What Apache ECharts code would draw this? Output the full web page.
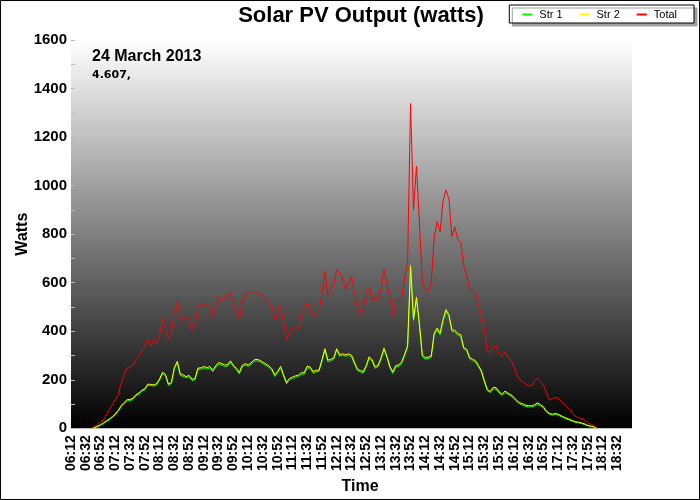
<!DOCTYPE html>
<html>
<head>
<meta charset="utf-8">
<script src="https://cdn.jsdelivr.net/npm/echarts@6/dist/echarts.min.js"></script>
<style>html,body{margin:0;padding:0;background:#fff}#c{width:700px;height:500px}</style>
</head>
<body>
<div id="c"></div>
<script>
const times = [
'06:12','06:16','06:20','06:24','06:28','06:32','06:36','06:40','06:44','06:48','06:52','06:56','07:00','07:04','07:08',
'07:12','07:16','07:20','07:24','07:28','07:32','07:36','07:40','07:44','07:48','07:52','07:56','08:00','08:04','08:08',
'08:12','08:16','08:20','08:24','08:28','08:32','08:36','08:40','08:44','08:48','08:52','08:56','09:00','09:04','09:08',
'09:12','09:16','09:20','09:24','09:28','09:32','09:36','09:40','09:44','09:48','09:52','09:56','10:00','10:04','10:08',
'10:12','10:16','10:20','10:24','10:28','10:32','10:36','10:40','10:44','10:48','10:52','10:56','11:00','11:04','11:08',
'11:12','11:16','11:20','11:24','11:28','11:32','11:36','11:40','11:44','11:48','11:52','11:56','12:00','12:04','12:08',
'12:12','12:16','12:20','12:24','12:28','12:32','12:36','12:40','12:44','12:48','12:52','12:56','13:00','13:04','13:08',
'13:12','13:16','13:20','13:24','13:28','13:32','13:36','13:40','13:44','13:48','13:52','13:56','14:00','14:04','14:08',
'14:12','14:16','14:20','14:24','14:28','14:32','14:36','14:40','14:44','14:48','14:52','14:56','15:00','15:04','15:08',
'15:12','15:16','15:20','15:24','15:28','15:32','15:36','15:40','15:44','15:48','15:52','15:56','16:00','16:04','16:08',
'16:12','16:16','16:20','16:24','16:28','16:32','16:36','16:40','16:44','16:48','16:52','16:56','17:00','17:04','17:08',
'17:12','17:16','17:20','17:24','17:28','17:32','17:36','17:40','17:44','17:48','17:52','17:56','18:00','18:04','18:08',
'18:12','18:16','18:20','18:24','18:28','18:32','18:36','18:40','18:44','18:48','18:52'
];

const str1 = [
null,null,null,null,null,null,null,0,2,7,
12,19,27,35,44,55,70,89,101,113,
114,119,134,140,152,158,177,176,174,179,
198,225,216,177,184,244,270,218,214,208,
213,197,200,242,243,249,243,249,233,251,
265,261,255,256,272,254,241,224,253,260,
255,263,276,278,274,266,259,251,240,214,
229,249,214,183,200,205,210,213,223,223,
250,247,228,233,234,276,320,274,278,285,
322,297,301,297,301,295,266,238,232,228,
253,289,276,247,254,284,324,291,249,226,
253,255,268,299,334,662,444,532,423,295,
285,287,292,385,406,385,441,482,461,399,
397,383,379,327,320,286,279,272,253,231,
191,155,147,163,161,145,136,147,140,133,
123,109,100,96,90,88,88,92,100,92,
84,67,58,54,57,54,48,42,37,33,
28,24,22,19,15,10,7,5,1
];

const str2 = [
null,null,null,null,null,null,null,0,3,9,
15,23,31,39,48,59,74,93,106,118,
119,124,139,145,157,163,182,181,179,184,
203,231,222,182,189,250,276,224,220,213,
218,202,205,248,249,255,249,255,239,257,
271,267,261,262,278,260,247,230,259,266,
261,269,282,284,280,272,265,257,246,220,
235,255,220,189,206,211,216,219,229,229,
256,253,234,239,240,283,328,281,284,291,
328,303,307,303,307,301,272,244,238,234,
259,295,282,253,260,290,330,297,255,232,
259,261,274,305,340,670,450,540,430,301,
291,293,298,392,413,392,448,489,468,406,
404,390,386,333,326,292,285,278,259,237,
197,160,152,169,167,150,141,153,145,138,
128,114,105,101,95,93,93,97,105,97,
89,71,62,58,61,58,52,46,41,36,
31,27,25,22,18,12,9,7,2
];

const total = [
null,null,null,null,null,null,null,0,8,17,
26,35,56,77,97,118,139,185,223,248,
250,259,282,295,322,335,367,338,365,350,
385,452,410,369,388,485,524,456,443,460,
448,401,429,499,510,513,513,491,455,503,
542,521,534,549,555,519,483,451,520,551,
557,563,565,559,553,547,526,514,506,448,
472,503,438,368,396,414,405,411,474,496,
516,496,463,472,482,558,647,550,570,593,
650,642,615,573,600,627,560,497,467,495,
564,579,527,535,535,574,656,596,535,462,
525,522,536,622,684,1338,900,1080,850,598,
574,565,602,787,851,810,937,982,944,790,
829,778,767,671,632,575,572,558,508,466,
405,317,313,333,340,305,296,315,292,282,
253,220,200,191,183,175,175,194,207,194,
179,146,116,122,127,124,111,98,89,77,
58,48,43,40,33,23,16,11,3
];

const yTicks = [0, 200, 400, 600, 800, 1000, 1200, 1400, 1600];
const seriesNames = ['Str 1', 'Str 2', 'Total'];
const seriesColors = ['#00ff00', '#ffff00', '#ff0000'];
const titleText = 'Solar PV Output (watts)';
const dateText = '24 March 2013';
const energyText = '4.607,';

const FF = '"Liberation Sans", Arial, sans-serif';
const chart = echarts.init(document.getElementById('c'), null, {renderer: 'canvas'});
const seriesData = [str1, str2, total];

chart.setOption({
  animation: false,
  backgroundColor: '#ffffff',
  title: {
    text: titleText, left: 356, top: 0, textAlign: 'center',
    textStyle: {fontFamily: FF, fontSize: 22, fontWeight: 'bold', color: '#000'}
  },
  legend: {
    data: seriesNames, right: 6, top: 5,
    padding: [4, 17, 3, 13], itemGap: 17, itemWidth: 10, itemHeight: 2, icon: 'rect',
    backgroundColor: '#ffffff', borderColor: '#000', borderWidth: 1,
    shadowColor: '#a0a0a0', shadowOffsetX: 3, shadowOffsetY: 3, shadowBlur: 0,
    textStyle: {fontFamily: FF, fontSize: 11, color: '#000', padding: [0, 0, 0, 2]}
  },
  grid: {
    left: 71, top: 40, right: 68, bottom: 70, show: true, borderWidth: 0,
    backgroundColor: {type: 'linear', x: 0, y: 0, x2: 0, y2: 1,
      colorStops: [{offset: 0, color: '#ffffff'}, {offset: 1, color: '#000000'}]}
  },
  xAxis: {
    type: 'category', data: times, boundaryGap: false,
    axisLine: {show: false}, axisTick: {show: false}, splitLine: {show: false},
    axisLabel: {
      interval: function (i) { return i % 5 === 0 && i <= 185; },
      rotate: 90, margin: 7, fontFamily: FF, fontSize: 14, fontWeight: 'bold', color: '#000'
    },
    name: 'Time', nameLocation: 'middle', nameGap: 50,
    nameTextStyle: {fontFamily: FF, fontSize: 16, fontWeight: 'bold', color: '#000', padding: [0, 0, 0, 17]}
  },
  yAxis: {
    type: 'value', min: yTicks[0], max: yTicks[yTicks.length - 1], interval: yTicks[1] - yTicks[0],
    axisLine: {show: false}, splitLine: {show: false},
    axisTick: {show: true, inside: true, length: 4, lineStyle: {color: '#bbbbbb'}},
    minorTick: {show: true, splitNumber: 2, length: 4, lineStyle: {color: '#bbbbbb'}},
    axisLabel: {margin: 4, fontFamily: FF, fontSize: 15, fontWeight: 'bold', color: '#000',
      formatter: function (v) { return String(v); }},
    name: 'Watts', nameLocation: 'middle', nameGap: 40, nameRotate: 90, nameMoveOverlap: false,
    nameTextStyle: {fontFamily: FF, fontSize: 16, fontWeight: 'bold', color: '#000'}
  },
  series: seriesNames.map(function (n, i) {
    return {
      name: n, type: 'line', data: seriesData[i], symbol: 'none', showSymbol: false,
      color: seriesColors[i], lineStyle: {width: 1, color: seriesColors[i]},
      itemStyle: {color: seriesColors[i]}, z: 2 + i
    };
  }),
  graphic: [
    {type: 'rect', silent: true, z: 100, shape: {x: 0.5, y: 0.5, width: 699, height: 499},
      style: {fill: 'none', stroke: '#000', lineWidth: 1}},
    {type: 'text', left: 92, top: 49, z: 100,
      style: {text: dateText, fill: '#000', font: 'bold 16px "Liberation Sans", Arial, sans-serif'}},
    {type: 'text', left: 92, top: 70, z: 100,
      style: {text: energyText, fill: '#000', font: 'bold 11px "DejaVu Sans", sans-serif'}}
  ]
});
</script>
</body>
</html>
